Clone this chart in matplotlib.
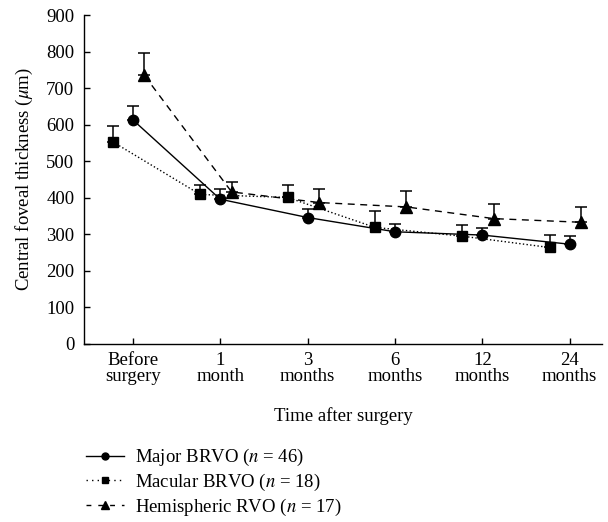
import matplotlib
matplotlib.use("Agg")
import matplotlib.pyplot as plt
import numpy as np
from matplotlib.lines import Line2D

plt.rcParams['font.family'] = ['Liberation Serif', 'DejaVu Serif']
plt.rcParams['mathtext.fontset'] = 'stix'

categories = ["Before\nsurgery", "1\nmonth", "3\nmonths", "6\nmonths", "12\nmonths", "24\nmonths"]
major_vals = [613, 396, 346, 307, 298, 273]
major_err = [37, 27, 22, 21, 18, 23]
macular_vals = [553, 409, 401, 319, 295, 264]
macular_err = [43, 27, 35, 46, 31, 33]
hemi_vals = [735, 416, 387, 375, 343, 333]
hemi_err = [61, 28, 37, 44, 41, 41]
labels = ["Major BRVO ($n$ = 46)", "Macular BRVO ($n$ = 18)", "Hemispheric RVO ($n$ = 17)"]

FS = 13.5

fig = plt.figure(figsize=(6.08, 5.22), dpi=100)
ax = fig.add_axes([84/608, 1-344/522, (602-84)/608, (344-15)/522])

x = np.arange(len(categories))
series = [
    (major_vals, major_err, 0.0, 'o', '-', 7.5),
    (macular_vals, macular_err, -0.23, 's', ':', 7.5),
    (hemi_vals, hemi_err, 0.13, '^', (0, (5, 4)), 9),
]
for vals, err, off, mk, ls, ms in series:
    xs = x + off
    ax.errorbar(xs, vals, yerr=[np.zeros(len(err)), err], fmt='none',
                ecolor='black', elinewidth=1.1, capsize=4, capthick=1.1, zorder=2)
    ax.plot(xs, vals, linestyle=ls, color='black', linewidth=1.0,
            marker=mk, markersize=ms, markerfacecolor='black',
            markeredgecolor='black', zorder=3)

ax.set_xlim(-0.56, 5.37)
ax.set_ylim(0, 900)
ax.set_yticks(range(0, 1000, 100))
ax.set_xticks(x)
ax.set_xticklabels(categories, fontsize=FS, linespacing=0.9)
ax.tick_params(axis='y', labelsize=FS, direction='in', length=4, width=1, pad=7)
ax.tick_params(axis='x', direction='in', length=4, width=1, pad=6)
for s in ['top', 'right']:
    ax.spines[s].set_visible(False)
for s in ['left', 'bottom']:
    ax.spines[s].set_linewidth(1.0)
ax.set_ylabel(r"Central foveal thickness ($\mu$m)", fontsize=FS, labelpad=8)
ax.set_xlabel("Time after surgery", fontsize=FS, labelpad=16)

handles = [
    Line2D([], [], color='black', linestyle='-', linewidth=1.0, marker='o', markersize=5),
    Line2D([], [], color='black', linestyle=(0, (1, 3)), linewidth=1.0, marker='s', markersize=5),
    Line2D([], [], color='black', linestyle=(0, (3.5, 5)), linewidth=1.0, marker='^', markersize=6),
]
fig.legend(handles, labels, loc='upper left', bbox_to_anchor=(86/608, 1-447/522),
           frameon=False, fontsize=FS, handlelength=2.0, handletextpad=0.6,
           labelspacing=0.2, borderaxespad=0, borderpad=0)

fig.savefig("out.png", dpi=100)
